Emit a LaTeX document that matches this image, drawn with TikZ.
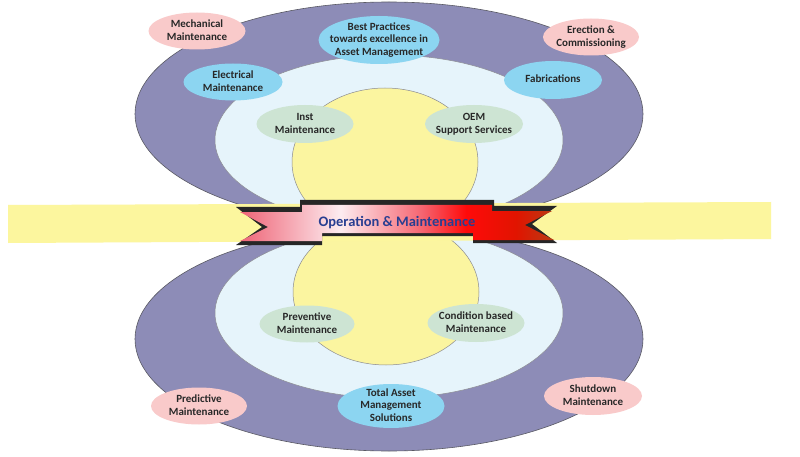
\documentclass[tikz,border=0pt]{standalone}
\usepackage{fontspec}
\setmainfont{Carlito}
\usetikzlibrary{shapes.geometric}
\definecolor{purp}{RGB}{141,140,183}
\definecolor{lblue}{RGB}{230,244,251}
\definecolor{yel}{RGB}{251,245,160}
\definecolor{bandc}{RGB}{252,246,158}
\definecolor{pinkn}{RGB}{249,202,202}
\definecolor{bluen}{RGB}{140,213,241}
\definecolor{greenn}{RGB}{205,228,211}
\definecolor{txt}{RGB}{40,40,40}
\definecolor{optxt}{RGB}{40,62,145}
\definecolor{edgec}{RGB}{90,90,100}
\definecolor{rb1}{RGB}{238,100,118}
\definecolor{rb2}{RGB}{253,236,240}
\definecolor{rb3}{RGB}{245,100,112}
\definecolor{rb4}{RGB}{255,10,10}
\definecolor{rb5}{RGB}{225,20,0}
\definecolor{rb6}{RGB}{185,60,20}
\pgfdeclarehorizontalshading{ribbonshade}{100bp}{color(0bp)=(rb1); color(25bp)=(rb1); color(41bp)=(rb2); color(54bp)=(rb3); color(61bp)=(rb4); color(69bp)=(rb5); color(75bp)=(rb6); color(100bp)=(rb6)}
\newcommand\lbl[1]{\makebox[0pt]{\smash{\raisebox{-3pt}{\begin{tabular}{@{}c@{}}#1\end{tabular}}}}}
\begin{document}
\begin{tikzpicture}[x=1pt,y=-1pt,
  bub/.style={ellipse, inner sep=0pt, font=\fontsize{11}{12.5}\selectfont\bfseries, text=txt},
  pinkb/.style={bub, fill=pinkn},
  blueb/.style={bub, fill=bluen},
  greenb/.style={bub, fill=greenn},
  ring/.style={draw=edgec, line width=0.6pt},
  ringl/.style={draw=edgec!70, line width=0.5pt}]
\useasboundingbox (0,0) rectangle (800,457);
\fill[white] (0,0) rectangle (800,457);
% top half
\filldraw[fill=purp, ring] (389,114) ellipse [x radius=254pt, y radius=112pt];
\filldraw[fill=lblue, ringl] (389,140) ellipse [x radius=174pt, y radius=85pt];
\filldraw[fill=yel, ringl] (385,162) ellipse [x radius=93pt, y radius=74pt];
% bottom half
\filldraw[fill=purp, ring] (389,339) ellipse [x radius=254pt, y radius=112pt];
\filldraw[fill=lblue, ringl] (389,313) ellipse [x radius=174pt, y radius=85pt];
\filldraw[fill=yel, ringl] (386,292) ellipse [x radius=93pt, y radius=73pt];
% band
\fill[bandc] (8,205) -- (771,202) -- (771,239) -- (8,243) -- cycle;
% ribbon
\fill[black!85] (236,207) -- (300,207) -- (300,200) -- (494,200) -- (494,206) -- (557,206) -- (532,224) -- (557,243) -- (473,243) -- (473,236) -- (322,236) -- (322,245) -- (236,245) -- (262,227) -- cycle;
\shade[shading=ribbonshade] (240,212) -- (302,212) -- (302,205) -- (492,205) -- (492,211) -- (552,211) -- (525,225) -- (554,240) -- (473,240) -- (473,233) -- (322,233) -- (322,241) -- (240,241) -- (268,227) -- cycle;
\node[font=\fontsize{14.5}{16}\selectfont\bfseries, text=optxt, inner sep=0pt] (om) at (397,223) {Operation \& Maintenance};
% bubbles
\node[pinkb, minimum width=97pt, minimum height=37pt] (mech) at (197,31) {\lbl{Mechanical\\Maintenance}};
\node[pinkb, minimum width=96pt, minimum height=37pt] (erec) at (591,37) {\lbl{Erection \&\\Commissioning}};
\node[pinkb, minimum width=96pt, minimum height=37pt] (pred) at (199,406) {\lbl{Predictive\\Maintenance}};
\node[pinkb, minimum width=98pt, minimum height=38pt] (shut) at (593,396) {\lbl{Shutdown\\Maintenance}};
\node[blueb, minimum width=121pt, minimum height=48pt] (best) at (379,40) {\lbl{Best Practices\\towards excellence in\\Asset Management}};
\node[blueb, minimum width=99pt, minimum height=37pt] (elec) at (233,82) {\lbl{Electrical\\Maintenance}};
\node[blueb, minimum width=98pt, minimum height=38pt] (fab) at (553,80) {\lbl{Fabrications}};
\node[blueb, minimum width=107pt, minimum height=44pt] (tam) at (391,406) {\lbl{Total Asset\\Management\\Solutions}};
\node[greenb, minimum width=97pt, minimum height=38pt] (inst) at (305,124) {\lbl{Inst\\Maintenance}};
\node[greenb, minimum width=98pt, minimum height=38pt] (oem) at (474,124) {\lbl{OEM\\Support Services}};
\node[greenb, minimum width=95pt, minimum height=37pt] (prev) at (307,324) {\lbl{Preventive\\Maintenance}};
\node[greenb, minimum width=97pt, minimum height=38pt] (cond) at (476,323) {\lbl{Condition based\\Maintenance}};
\end{tikzpicture}
\end{document}
